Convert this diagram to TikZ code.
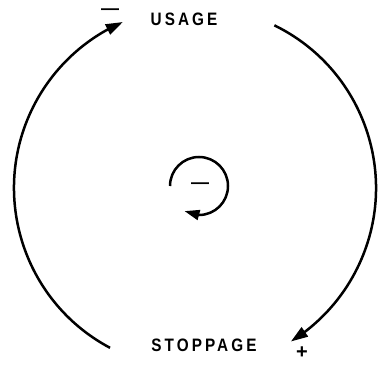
\documentclass[tikz,border=0pt]{standalone}
\usepackage{fontspec}
\setmainfont{Liberation Sans}
\newfontfamily\labfont[LetterSpace=17,FakeStretch=0.85]{Liberation Sans}
\usetikzlibrary{arrows.meta,bending,calc}
\begin{document}
\begin{tikzpicture}[x=1pt,y=1pt,
  flow/.style={line width=2.5pt, -{Triangle[length=17pt,width=11pt]}},
  flowsmall/.style={line width=2.5pt, -{Triangle[length=15pt,width=10pt]}},
  lab/.style={font=\labfont\bfseries\fontsize{18}{18}\selectfont, inner sep=0pt},
  sign/.style={font=\bfseries\fontsize{18}{18}\selectfont, inner sep=0pt},
  plussign/.style={font=\bfseries\fontsize{20}{20}\selectfont, inner sep=0pt}]
\useasboundingbox (0,0) rectangle (385,370);
\coordinate (C) at (195,182);
\node[lab] (usage) at (184,351) {USAGE};
\node[lab] (stop) at (204,25) {STOPPAGE};
\node[sign] (m1) at (110,358) {—};
\node[sign] (m2) at (200,184) {—};
\node[plussign] (p) at (302,17) {+};
\coordinate (a1) at ($(C)+(242:181)$);
\draw[flow] (a1) arc[start angle=242,end angle=113.5,radius=181];
\coordinate (a2) at ($(C)+(64:181)$);
\draw[flow] (a2) arc[start angle=64,end angle=-58,radius=181];
\coordinate (c0) at (199,184);
\coordinate (c1) at ($(c0)+(180:29)$);
\draw[flowsmall] (c1) arc[start angle=180,end angle=-120,radius=29];
\end{tikzpicture}
\end{document}
